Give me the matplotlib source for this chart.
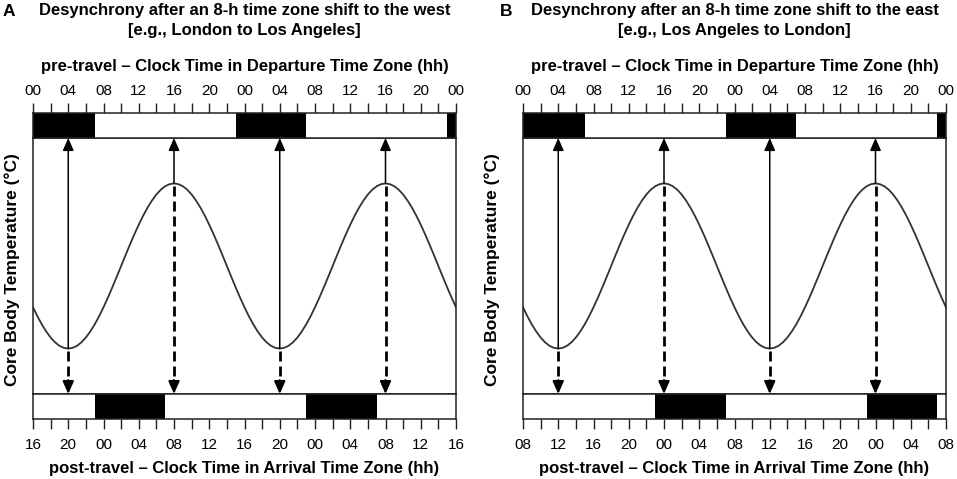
import matplotlib
matplotlib.use('Agg')
import matplotlib.pyplot as plt

plt.rcParams['font.family'] = ['Liberation Sans', 'DejaVu Sans']

W, H = 957, 479

# ---------------- data ----------------
# relative core body temperature read from the schematic every half hour over
# one day (nadir at 04:00, peak at 16:00 pre-travel clock time)
temperature_day = [-0.5, -0.609, -0.707, -0.793, -0.866, -0.924, -0.966, -0.991,
                   -1.0, -0.991, -0.966, -0.924, -0.866, -0.793, -0.707, -0.609,
                   -0.5, -0.383, -0.259, -0.131, 0.0, 0.131, 0.259, 0.383,
                   0.5, 0.609, 0.707, 0.793, 0.866, 0.924, 0.966, 0.991,
                   1.0, 0.991, 0.966, 0.924, 0.866, 0.793, 0.707, 0.609,
                   0.5, 0.383, 0.259, 0.131, 0.0, -0.131, -0.259, -0.383]
# two days shown, same pattern each day
temperature = temperature_day + temperature_day + [temperature_day[0]]
hours = [i * 0.5 for i in range(len(temperature))]

nadir_hours = [4, 28]
peak_hours = [16, 40]

pre_tick_labels = ["00", "04", "08", "12", "16", "20", "00",
                   "04", "08", "12", "16", "20", "00"]
post_tick_labels_A = ["16", "20", "00", "04", "08", "12", "16",
                      "20", "00", "04", "08", "12", "16"]
post_tick_labels_B = ["08", "12", "16", "20", "00", "04", "08",
                      "12", "16", "20", "00", "04", "08"]

sleep_onset = 23      # local clock hour
sleep_duration = 8    # hours
shift_A = -8          # westward
shift_B = 8           # eastward

titles_A = ["Desynchrony after an 8-h time zone shift to the west",
            "[e.g., London to Los Angeles]"]
titles_B = ["Desynchrony after an 8-h time zone shift to the east",
            "[e.g., Los Angeles to London]"]

# ---------------- layout ----------------
LINE = '#222222'
YLO, YHI = -1.55, 1.55


def fx(px):
    return px / W


def fy(px):
    return 1 - px / H


def sleep_spans(offset):
    spans = []
    for k in range(-2, 4):
        s = sleep_onset + 24 * k - offset
        e = s + sleep_duration
        s2, e2 = max(s, 0), min(e, 48)
        if e2 > s2:
            spans.append((s2, e2 - s2))
    return spans


def style_bar(ax):
    ax.set_xlim(0, 48)
    ax.set_ylim(0, 1)
    ax.set_yticks([])
    for sp in ax.spines.values():
        sp.set_color(LINE)
        sp.set_linewidth(1.1)


def panel(x0, x1, letter, letter_x, ylab_x, titles, post_labels, shift):
    left = fx(x0)
    width = fx(x1) - fx(x0)
    ax = fig.add_axes([left, fy(394), width, fy(138) - fy(394)])
    axt = fig.add_axes([left, fy(138), width, fy(113) - fy(138)])
    axb = fig.add_axes([left, fy(419), width, fy(394) - fy(419)])

    ticks = list(range(0, 49, 2))

    # top bar (pre-travel schedule)
    style_bar(axt)
    axt.broken_barh(sleep_spans(0), (0, 1), facecolors='black', edgecolor='none')
    axt.set_xticks(ticks)
    axt.set_xticklabels([pre_tick_labels[t // 4] if t % 4 == 0 else '' for t in ticks])
    axt.tick_params(axis='x', top=True, bottom=False, labeltop=True, labelbottom=False,
                    direction='out', length=7, width=1, pad=3.5, labelsize=11,
                    color=LINE)
    axt.xaxis.set_label_position('top')
    axt.set_xlabel("pre-travel \u2013 Clock Time in Departure Time Zone (hh)",
                   fontweight='bold', fontsize=12, labelpad=10)

    # bottom bar (post-travel schedule)
    offset = shift % 24
    style_bar(axb)
    axb.broken_barh(sleep_spans(offset), (0, 1), facecolors='black', edgecolor='none')
    axb.set_xticks(ticks)
    axb.set_xticklabels([post_labels[t // 4] if t % 4 == 0 else '' for t in ticks])
    axb.tick_params(axis='x', bottom=True, top=False, labelbottom=True,
                    direction='out', length=7, width=1, pad=6.5, labelsize=11,
                    color=LINE)
    axb.set_xlabel("post-travel \u2013 Clock Time in Arrival Time Zone (hh)",
                   fontweight='bold', fontsize=12, labelpad=6.5)

    # main panel
    ax.set_xlim(0, 48)
    ax.set_ylim(YLO, YHI)
    ax.set_xticks([])
    ax.set_yticks([])
    for sp in ax.spines.values():
        sp.set_color(LINE)
        sp.set_linewidth(1.1)
    ax.plot(hours, temperature, color='#333333', lw=1.3, solid_joinstyle='round')

    head = dict(arrowstyle='-|>,head_length=0.75,head_width=0.33', mutation_scale=10,
                color='black', shrinkA=0, shrinkB=0)
    for t in nadir_hours + peak_hours:
        v = temperature[hours.index(t)]
        # solid arrow up to the pre-travel bar
        ax.annotate('', xy=(t, YHI), xytext=(t, v),
                    arrowprops=dict(head, lw=1.1), annotation_clip=False)
        # dashed arrow down to the post-travel bar
        ax.plot([t, t], [v - 0.03, YLO + 0.13], color='black', lw=2.0,
                linestyle=(0, (3.6, 1.8)), solid_capstyle='butt')
        ax.annotate('', xy=(t, YLO), xytext=(0, 10), textcoords='offset points',
                    arrowprops=dict(head, lw=1.5), annotation_clip=False)

    # titles
    cx = (x0 + x1) / 2
    fig.text(fx(cx), fy(11), titles[0], ha='center', va='center',
             fontweight='bold', fontsize=12)
    fig.text(fx(cx), fy(30), titles[1], ha='center', va='center',
             fontweight='bold', fontsize=12)
    fig.text(fx(letter_x), fy(11), letter, ha='left', va='center',
             fontweight='bold', fontsize=12.5)
    fig.text(fx(ylab_x), fy(270), "Core Body Temperature (\u00b0C)", rotation=90,
             ha='center', va='center', fontweight='bold', fontsize=12.5)


fig = plt.figure(figsize=(W / 100, H / 100), dpi=100)
fig.patch.set_facecolor('white')

panel(33, 456, "A", 3, 12, titles_A, post_tick_labels_A, shift_A)
panel(523, 946, "B", 500, 492, titles_B, post_tick_labels_B, shift_B)

fig.savefig('out.png', dpi=100, facecolor='white')
